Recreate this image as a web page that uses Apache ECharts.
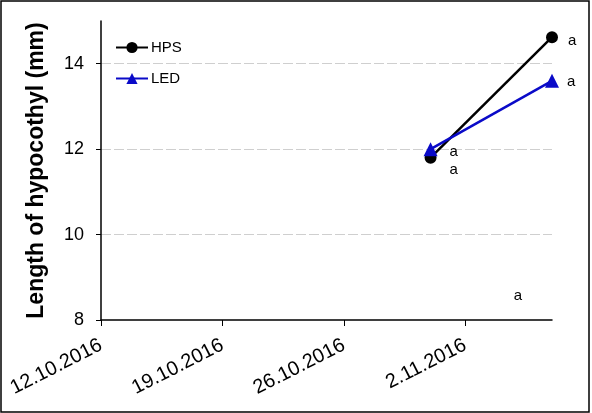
<!DOCTYPE html>
<html>
<head>
<meta charset="utf-8">
<script src="https://cdn.jsdelivr.net/npm/echarts@6/dist/echarts.min.js"></script>
<style>
html,body{margin:0;padding:0;background:#fff;}
#chart{width:592px;height:413px;}
</style>
</head>
<body>
<div id="chart"></div>
<script>
// ---- data ----
const tickDates = ['12.10.2016', '19.10.2016', '26.10.2016', '2.11.2016'];
const axisStart = '12.10.2016';
const axisEnd = '7.11.2016';
const sampleDates = ['31.10.2016', '7.11.2016'];
const hpsValues = [11.8, 14.62];
const ledValues = [12.0, 13.6];
const hpsLetters = ['a', 'a'];
const ledLetters = ['a', 'a'];
const yTicks = [8, 10, 12, 14];
const seriesNames = ['HPS', 'LED'];
const yTitle = 'Length of hypocothyl (mm)';
const strayLetter = 'a';

// ---- helpers ----
const DAY = 86400000;
function parseDate(s) {
  const p = s.split('.').map(Number);
  return Date.UTC(p[2], p[1] - 1, p[0]);
}
function fmtDate(v) {
  const d = new Date(v);
  return d.getUTCDate() + '.' + (d.getUTCMonth() + 1) + '.' + d.getUTCFullYear();
}
const FONT = '"Liberation Sans", Arial, sans-serif';

const hpsLabelCfg = [
  { distance: 13, offset: [0, 12] },
  { distance: 10, offset: [0, 4] }
];
const ledLabelCfg = [
  { distance: 12, offset: [0, 3] },
  { distance: 8, offset: [0, 1] }
];

function buildData(values, letters, cfgs) {
  return sampleDates.map((d, i) => ({
    value: [parseDate(d), values[i]],
    label: Object.assign({
      show: true, position: 'right', formatter: letters[i],
      color: '#000', fontSize: 15, fontFamily: FONT
    }, cfgs[i])
  }));
}

const chart = echarts.init(document.getElementById('chart'), null, { renderer: 'canvas' });
chart.setOption({
  animation: false,
  backgroundColor: '#fff',
  textStyle: { fontFamily: FONT },
  grid: { left: 101, top: 21, right: 40, bottom: 93, containLabel: false },
  legend: {
    data: seriesNames,
    orient: 'vertical',
    left: 110, top: 35,
    itemWidth: 32, itemHeight: 14, itemGap: 16,
    textStyle: { fontSize: 15, color: '#000', fontFamily: FONT, padding: [0, 0, 0, -2] }
  },
  xAxis: {
    type: 'value',
    min: parseDate(axisStart),
    max: parseDate(axisEnd),
    interval: 7 * DAY,
    axisLine: { show: true, onZero: false, lineStyle: { color: '#000', width: 1.5 } },
    axisTick: { show: true, length: 6, lineStyle: { color: '#000', width: 1 },
      customValues: tickDates.map(parseDate) },
    axisLabel: {
      customValues: tickDates.map(parseDate),
      formatter: v => fmtDate(v),
      rotate: 27, margin: 24,
      fontSize: 20, color: '#000', fontFamily: FONT
    },
    splitLine: { show: false }
  },
  yAxis: {
    type: 'value',
    min: 8, max: 15, interval: 2,
    name: yTitle,
    nameLocation: 'middle',
    nameGap: 53,
    nameTextStyle: { fontSize: 23, fontWeight: 'bold', color: '#000', fontFamily: FONT },
    axisLine: { show: true, lineStyle: { color: '#000', width: 1.5 } },
    axisTick: { show: true, length: 5, lineStyle: { color: '#000', width: 1 }, customValues: yTicks },
    axisLabel: { customValues: yTicks, margin: 17, fontSize: 18, color: '#000', fontFamily: FONT },
    splitLine: { show: true, lineStyle: {
      color: ['rgba(0,0,0,0)', '#cfcfcf', '#cfcfcf', '#cfcfcf', 'rgba(0,0,0,0)'],
      type: [10, 3], width: 1 } }
  },
  series: [
    {
      name: seriesNames[0], type: 'line',
      symbol: 'circle', symbolSize: 12,
      itemStyle: { color: '#000' },
      lineStyle: { color: '#000', width: 2.5 },
      data: buildData(hpsValues, hpsLetters, hpsLabelCfg),
      z: 2
    },
    {
      name: seriesNames[1], type: 'line',
      symbol: 'triangle', symbolSize: 14,
      itemStyle: { color: '#0a0ac8' },
      lineStyle: { color: '#0a0ac8', width: 2.5 },
      data: buildData(ledValues, ledLetters, ledLabelCfg),
      z: 3
    }
  ],
  graphic: [
    { type: 'rect', shape: { x: 1, y: 1, width: 588, height: 411 },
      style: { fill: 'none', stroke: '#000', lineWidth: 1.5 }, z: 100, silent: true },
    { type: 'text', x: 518, y: 296,
      style: { text: strayLetter, fontSize: 15, fill: '#000', font: '15px ' + FONT,
        align: 'center', verticalAlign: 'middle' } }
  ]
});
</script>
</body>
</html>
